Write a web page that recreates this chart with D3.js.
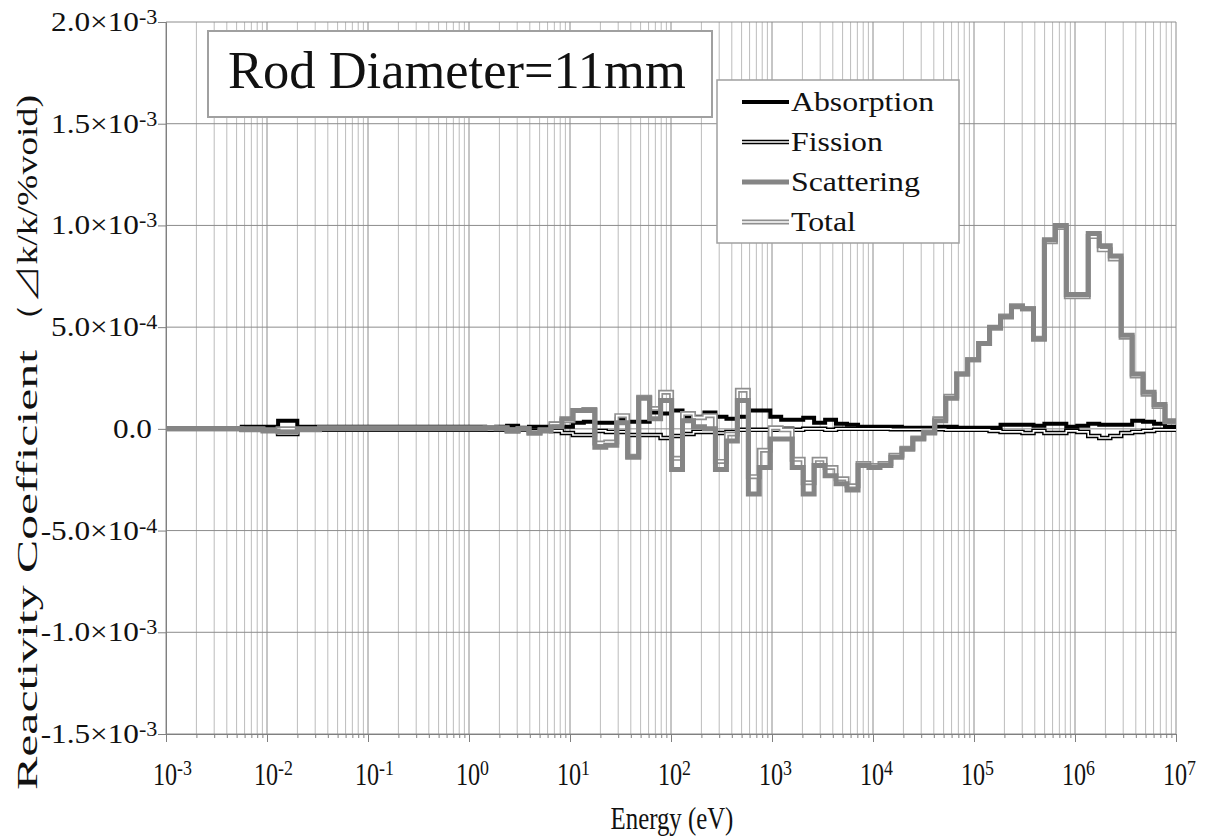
<!DOCTYPE html>
<html>
<head>
<meta charset="utf-8">
<script src="https://cdn.jsdelivr.net/npm/d3@7"></script>
<style>
  html, body { margin: 0; background: #fff; overflow: hidden; }
  svg { display: block; }
  text { font-family: "Liberation Serif", "Times New Roman", serif; fill: #111; }
</style>
</head>
<body>
<svg width="1208" height="840"></svg>
<script>
// group boundaries, log10(E / eV), ascending
const edges = [
  -3.0, -2.25, -2.04, -1.89, -1.70, -1.48, -1.0, -0.49,
  0.051, 0.160, 0.269, 0.377, 0.486, 0.594, 0.703, 0.811,
  0.920, 1.029, 1.137, 1.246, 1.354, 1.463, 1.571, 1.680,
  1.789, 1.897, 2.006, 2.114, 2.223, 2.331, 2.440, 2.549,
  2.657, 2.766, 2.874, 2.983, 3.091, 3.200, 3.309, 3.417,
  3.526, 3.634, 3.743, 3.852, 3.960, 4.069, 4.177, 4.286,
  4.394, 4.503, 4.611, 4.720, 4.829, 4.937, 5.046, 5.154,
  5.263, 5.371, 5.480, 5.589, 5.697, 5.806, 5.914, 6.023,
  6.131, 6.240, 6.349, 6.457, 6.566, 6.674, 6.783, 6.891, 7.000
];

// reactivity per group, in units of 1e-4 dk/k/%void
const absorption = [
  0, 0.1, 0.1, 0.4, 0.1, 0.1, 0.1, 0.1,
  0.1, 0.05, 0.1, 0.15, 0.05, 0.1, 0.1, 0.25,
  0.1, 0.3, 0.35, 0.3, 0.3, 0.5, 0.35, 0.35,
  0.8, 0.75, 0.9, 0.6, 0.6, 0.8, 0.6, 0.5,
  0.6, 0.9, 0.9, 0.6, 0.45, 0.45, 0.55, 0.3,
  0.45, 0.25, 0.2, 0.1, 0.1, 0.1, 0.1, 0.05,
  0.05, 0.05, 0.1, 0.1, 0.05, 0.05, 0.05, 0.05,
  0.2, 0.2, 0.2, 0.15, 0.25, 0.25, 0.1, 0.15,
  0.25, 0.2, 0.2, 0.2, 0.4, 0.35, 0.25, 0.1
];
const fission = [
  0, -0.05, -0.05, -0.25, -0.05, -0.05, -0.05, -0.05,
  -0.05, -0.05, -0.05, -0.1, -0.05, -0.1, -0.05, -0.1,
  -0.2, -0.3, -0.3, -0.1, -0.15, -0.15, -0.3, -0.3,
  -0.3, -0.45, -0.35, -0.25, -0.15, -0.15, -0.2, -0.15,
  -0.05, -0.05, -0.05, -0.05, 0, -0.05, 0, 0,
  -0.05, 0, 0, 0, 0, 0, -0.02, -0.02,
  -0.02, -0.02, -0.02, -0.05, -0.05, -0.05, -0.05, -0.1,
  -0.15, -0.15, -0.2, -0.1, -0.2, -0.2, -0.1, -0.15,
  -0.35, -0.45, -0.35, -0.2, -0.15, -0.1, -0.05, -0.05
];
const scattering = [
  0, -0.05, -0.1, -0.15, -0.05, 0, 0, 0,
  0, 0.05, 0, -0.1, 0, -0.2, -0.1, 0.1,
  0.5, 0.9, 0.9, -0.9, -0.8, 0.3, -1.4, 1.5,
  0.5, 1.4, -2.0, 0.4, 0.1, 0.0, -2.0, -0.6,
  1.4, -3.2, -1.9, -0.5, -0.5, -1.9, -3.2, -1.8,
  -2.3, -2.7, -3.0, -1.8, -1.9, -1.8, -1.4, -1.0,
  -0.5, -0.2, 0.4, 1.5, 2.7, 3.4, 4.2, 5.0,
  5.5, 6.0, 5.9, 4.4, 9.3, 10.0, 6.6, 6.6,
  9.6, 9.0, 8.5, 4.6, 2.7, 1.8, 1.2, 0.4
];
const total = [
  0, 0, -0.05, 0, 0, 0.05, 0.05, 0.05,
  0.05, 0.05, 0.05, -0.05, 0, -0.2, -0.05, 0.25,
  0.4, 0.9, 0.95, -0.7, -0.65, 0.65, -1.35, 1.55,
  1.0, 1.8, -1.45, 0.75, 0.55, 0.65, -1.6, -0.25,
  1.9, -2.35, -1.05, 0.05, -0.05, -1.5, -2.65, -1.5,
  -1.9, -2.45, -2.8, -1.7, -1.8, -1.7, -1.3, -0.95,
  -0.45, -0.15, 0.5, 1.6, 2.7, 3.4, 4.2, 4.95,
  5.55, 6.05, 5.9, 4.45, 9.2, 9.9, 6.5, 6.5,
  9.45, 8.8, 8.35, 4.5, 2.6, 1.7, 1.1, 0.35
];

const yTicks = [-15, -10, -5, 0, 5, 10, 15, 20];          // x 1e-4
const yTickLabels = [
  ["-1.5×10", "-3"], ["-1.0×10", "-3"], ["-5.0×10", "-4"], ["0.0", ""],
  ["5.0×10", "-4"], ["1.0×10", "-3"], ["1.5×10", "-3"], ["2.0×10", "-3"]
];
const decades = [-3, -2, -1, 0, 1, 2, 3, 4, 5, 6, 7];
const seriesNames = ["Absorption", "Fission", "Scattering", "Total"];
const titleText = "Rod Diameter=11mm";
const xLabel = "Energy (eV)";
const yLabelParts = ["Reactivity Coefficient", "\uFF08\u22BFk/k/%void)"];

var svg = d3.select('svg');
var margin = { top: 22, left: 166, right: 32, bottom: 106 };
var width = +svg.attr('width');
var height = +svg.attr('height');
var innerWidth = width - margin.left - margin.right;
var innerHeight = height - margin.top - margin.bottom;

var xScale = d3.scaleLog().domain([1e-3, 1e7]).range([margin.left, margin.left + innerWidth]);
var yScale = d3.scaleLinear().domain([-15e-4, 20e-4]).range([margin.top + innerHeight, margin.top]);

svg.append('rect').attr('width', width).attr('height', height).attr('fill', '#fff');

// grid
var minors = [];
decades.slice(0, -1).forEach(k => { for (let m = 2; m <= 9; m++) minors.push(m * Math.pow(10, k)); });
var gridG = svg.append('g');
gridG.selectAll('line.minor').data(minors).enter().append('line')
  .attr('x1', d => xScale(d)).attr('x2', d => xScale(d))
  .attr('y1', margin.top).attr('y2', margin.top + innerHeight)
  .attr('stroke', '#bcbcbc').attr('stroke-width', 1);
gridG.selectAll('line.major').data(decades).enter().append('line')
  .attr('x1', d => xScale(Math.pow(10, d))).attr('x2', d => xScale(Math.pow(10, d)))
  .attr('y1', margin.top).attr('y2', margin.top + innerHeight)
  .attr('stroke', '#8c8c8c').attr('stroke-width', 1);
gridG.selectAll('line.h').data(yTicks).enter().append('line')
  .attr('x1', margin.left).attr('x2', margin.left + innerWidth)
  .attr('y1', d => yScale(d * 1e-4)).attr('y2', d => yScale(d * 1e-4))
  .attr('stroke', '#8c8c8c').attr('stroke-width', 1);

// axes, ticks outside
var xAxisMajor = d3.axisBottom(xScale).tickValues(decades.map(d => Math.pow(10, d))).tickSize(8).tickFormat('');
var xAxisMinor = d3.axisBottom(xScale).tickValues(minors).tickSize(4).tickFormat('');
var yAxis = d3.axisLeft(yScale).tickValues(yTicks.map(d => d * 1e-4)).tickSize(8).tickFormat('');
[svg.append('g').attr('transform', `translate(0,${margin.top + innerHeight})`).call(xAxisMajor),
 svg.append('g').attr('transform', `translate(0,${margin.top + innerHeight})`).call(xAxisMinor),
 svg.append('g').attr('transform', `translate(${margin.left},0)`).call(yAxis)]
  .forEach(a => { a.selectAll('path,line').attr('stroke', '#808080'); });

// serif text with a horizontal stretch
function txt(parent, x, y, s, size, sx, anchor) {
  return parent.append('text')
    .attr('transform', `translate(${x},${y}) scale(${sx},1)`)
    .attr('text-anchor', anchor).attr('font-size', size).text(s);
}

var tickG = svg.append('g');
yTicks.forEach((d, i) => {
  var y = yScale(d * 1e-4) + 9;
  var lab = yTickLabels[i];
  if (lab[1]) {
    txt(tickG, 139, y, lab[0], 26.5, 1.18, 'end');
    txt(tickG, 139, y - 7, lab[1], 21, 1.05, 'start');
  } else {
    txt(tickG, 152, y, lab[0], 26.5, 1.18, 'end');
  }
});
decades.forEach(d => {
  var x = xScale(Math.pow(10, d));
  txt(tickG, x - 1, 785, '10', 31, 0.78, 'middle');
  txt(tickG, x + 11, 775, String(d), 21, 0.85, 'start');
});
txt(svg, 672, 829, xLabel, 31, 0.8, 'middle');

// y title in two pieces, stretched along its length as in the source
var yl = svg.append('g').attr('transform', 'translate(37,0) rotate(-90)');
yl.append('text').attr('x', -790).attr('y', 0).attr('font-size', 29)
  .attr('textLength', 440).attr('lengthAdjust', 'spacingAndGlyphs').text(yLabelParts[0]);
yl.append('text').attr('x', -340).attr('y', 0).attr('font-size', 29)
  .attr('textLength', 245).attr('lengthAdjust', 'spacingAndGlyphs').text(yLabelParts[1]);

// series, drawn as step lines
var line = d3.line()
  .x(d => xScale(Math.pow(10, d[0])))
  .y(d => yScale(d[1] * 1e-4))
  .curve(d3.curveStepAfter);
function pts(vals) {
  var p = vals.map((v, i) => [edges[i], v]);
  p.push([edges[edges.length - 1], vals[vals.length - 1]]);
  return p;
}
var marksG = svg.append('g').attr('fill', 'none').attr('stroke-linejoin', 'miter');
var styles = {
  Absorption: [{ c: '#000', w: 4 }],
  Fission: [{ c: '#000', w: 4.5 }, { c: '#fff', w: 1.6 }],
  Scattering: [{ c: '#858585', w: 5 }],
  Total: [{ c: '#8f8f8f', w: 5 }, { c: '#fff', w: 1.6 }]
};
var seriesData = { Absorption: absorption, Fission: fission, Scattering: scattering, Total: total };
["Absorption", "Fission", "Total", "Scattering"].forEach(name => {
  styles[name].forEach(s => {
    marksG.append('path').attr('d', line(pts(seriesData[name])))
      .attr('stroke', s.c).attr('stroke-width', s.w);
  });
});

// title box
var tb = svg.append('g');
tb.append('rect').attr('x', 208).attr('y', 31).attr('width', 504).attr('height', 86)
  .attr('fill', '#fff').attr('stroke', '#a0a0a0').attr('stroke-width', 2);
tb.append('text').attr('x', 228).attr('y', 88).attr('font-size', 52.5).text(titleText);

// legend
var lg = svg.append('g');
lg.append('rect').attr('x', 717).attr('y', 80).attr('width', 242).attr('height', 163)
  .attr('fill', '#fff').attr('stroke', '#a0a0a0').attr('stroke-width', 1.5);
seriesNames.forEach((name, i) => {
  var cy = 102 + i * 40;
  styles[name].forEach(s => {
    lg.append('line').attr('x1', 742).attr('x2', 789).attr('y1', cy).attr('y2', cy)
      .attr('stroke', s.c).attr('stroke-width', s.w);
  });
  txt(lg, 791, cy + 9, name, 26.5, 1.2, 'start');
});
</script>
</body>
</html>
